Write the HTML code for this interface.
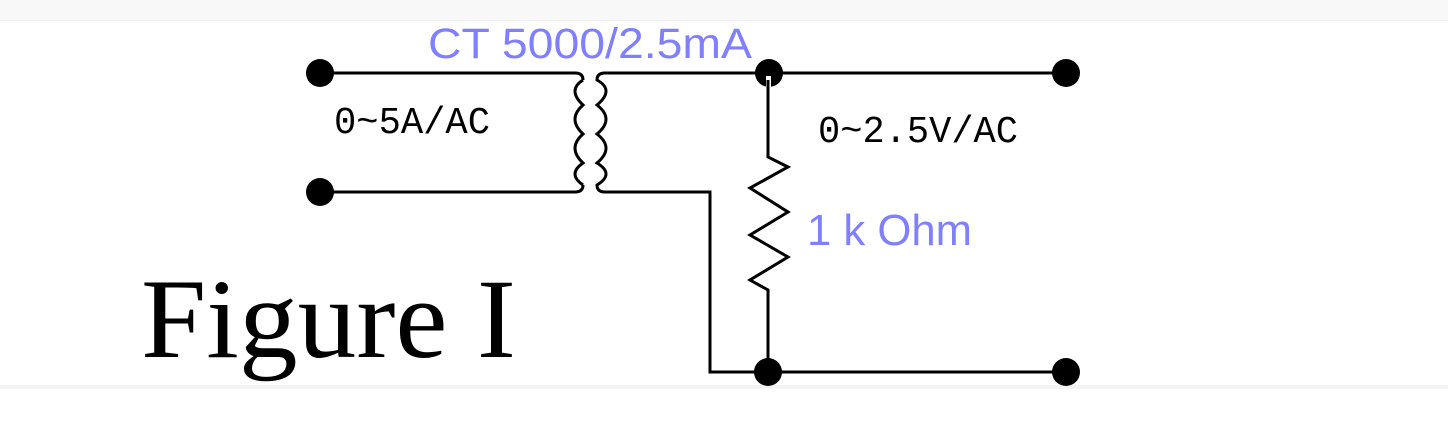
<!DOCTYPE html>
<html><head><meta charset="utf-8"><style>
html,body{margin:0;padding:0;background:#fff;width:1448px;height:446px;overflow:hidden}
</style></head><body>
<svg width="1448" height="446" xmlns="http://www.w3.org/2000/svg">
<rect x="0" y="0" width="1448" height="20" fill="#f8f8f8"/>
<rect x="0" y="20" width="1448" height="1" fill="#eeeeee"/>
<rect x="0" y="385" width="1448" height="4" fill="#f3f3f3"/>
<g stroke="#000" stroke-width="3" fill="none">
<path d="M320 73 H575 Q583 73 583 80"/>
<path d="M320 192 H575 Q583 192 583 185"/>
<path d="M583 80 Q567 90 583 105 Q567 119 583 134 Q567 148 583 163 Q567 174 583 185"/>
<path d="M605 73 H1066"/>
<path d="M605 192 H710 V372 H1066"/>
<path d="M605 73 Q597 73 597 80 Q615 90 597 105 Q615 119 597 134 Q615 148 597 163 Q615 174 597 185 Q597 192 605 192"/>
<path d="M768 73 V157 L788 167 L750 188 L788 212 L750 235 L788 257 L750 280 L768 290 V372"/>
</g>
<g fill="#000">
<circle cx="320" cy="73" r="14"/>
<circle cx="320" cy="192" r="14"/>
<circle cx="769" cy="73" r="14"/>
<circle cx="1066" cy="73" r="14"/>
<circle cx="768" cy="372" r="14"/>
<circle cx="1066" cy="372" r="14"/>
</g>
<rect x="766" y="76" width="5" height="12" fill="#fff"/>
<line x1="768" y1="80" x2="768" y2="90" stroke="#000" stroke-width="3"/>
<g font-family="Liberation Sans, sans-serif" fill="#8080ff">
<text x="428" y="58" font-size="43" textLength="324" lengthAdjust="spacingAndGlyphs">CT 5000/2.5mA</text>
<text x="807" y="245" font-size="44" textLength="165" lengthAdjust="spacingAndGlyphs">1 k Ohm</text>
</g>
<g font-family="Liberation Mono, monospace" fill="#000">
<text x="334" y="133" font-size="38" textLength="156" lengthAdjust="spacingAndGlyphs">0~5A/AC</text>
<text x="818" y="142" font-size="38" textLength="200" lengthAdjust="spacingAndGlyphs">0~2.5V/AC</text>
</g>
<text x="141" y="357" font-family="Liberation Serif, serif" font-size="113" textLength="375" lengthAdjust="spacingAndGlyphs" fill="#000">Figure I</text>
</svg>
</body></html>
